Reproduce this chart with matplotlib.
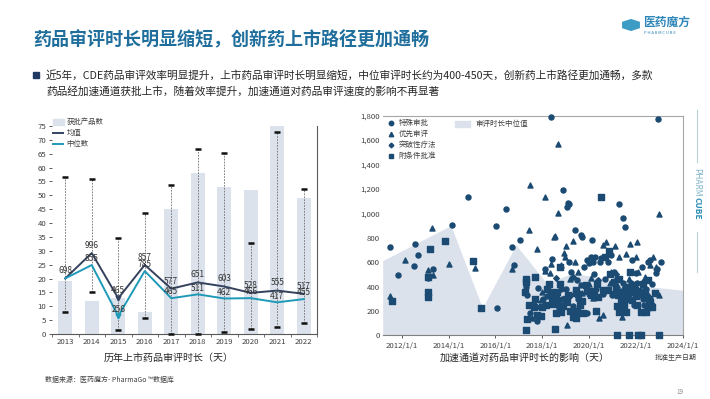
import datetime as dt
import matplotlib
matplotlib.use("Agg")
import matplotlib.pyplot as plt
import matplotlib.dates as mdates
import numpy as np
from matplotlib.patches import Rectangle, RegularPolygon
from matplotlib.lines import Line2D

plt.rcParams['font.family'] = ['Noto Sans CJK SC', 'DejaVu Sans']

# ---- 左图数据：历年上市药品审评时长 ----
years = ['2013', '2014', '2015', '2016', '2017', '2018', '2019', '2020', '2021', '2022']
approved = [19, 12, 13, 8, 45, 58, 53, 52, 75, 49]          # 获批产品数 (右轴)
mean_days = [698, 996, 465, 857, 577, 651, 603, 528, 555, 517]
median_days = [698, 855, 256, 785, 465, 511, 462, 466, 417, 455]
range_max = [1892, 1865, 1176, 1462, 1791, 2214, 2167, 1117, 2421, 1748]
range_min = [307, 541, 92, 229, 45, 45, 72, 103, 127, 177]

# ---- 右图数据：加速通道 (批准年份, 审评天数) ----
special_yr = [2011.5, 2011.86, 2012.57, 2012.54, 2012.69, 2013.33, 2013.14, 2014.16, 2014.83,
              2016.01, 2016.07, 2016.47, 2016.69, 2016.81, 2017.04, 2017.36, 2017.64, 2017.76,
              2017.81, 2018.1, 2018.39, 2018.41, 2018.9, 2019.04, 2019.1, 2019.14, 2019.14,
              2019.39, 2019.64, 2019.71, 2020.11, 2020.07, 2020.0, 2019.93, 2020.5, 2020.8,
              2021.26, 2021.44, 2021.54, 2022.93, 2021.05, 2021.2, 2021.45, 2021.7, 2021.85,
              2022.0, 2022.25, 2022.45, 2022.6, 2022.85, 2023.07, 2019.5, 2019.65, 2018.8,
              2018.2, 2020.3, 2020.6, 2019.25, 2019.8, 2020.2, 2021.9, 2022.7,
              2017.3, 2017.5, 2017.9, 2018.05, 2018.5, 2018.7, 2018.85, 2019.0, 2019.2,
              2019.3, 2019.55, 2019.9, 2020.0, 2020.15, 2020.25, 2020.45, 2020.7, 2020.95,
              2021.0, 2021.3, 2021.5, 2021.65, 2021.8, 2022.05, 2022.15, 2022.3, 2022.5,
              2022.62, 2022.9, 2022.35]
special_days = [724, 498, 750, 566, 661, 547, 471, 901, 1136,
                893, 226, 1032, 724, 574, 784, 327, 248, 120,
                384, 547, 1792, 629, 1191, 1054, 1087, 1073, 601,
                860, 822, 808, 778, 642, 590, 180, 630, 600,
                1079, 958, 890, 1770, 520, 470, 430, 400, 620,
                510, 560, 380, 300, 510, 601, 450, 410, 380,
                320, 380, 340, 520, 560, 500, 250, 420,
                400, 180, 230, 300, 330, 220, 300, 380, 330,
                240, 300, 620, 350, 600, 640, 600, 460, 660,
                330, 360, 380, 330, 430, 430, 330, 300, 600,
                620, 540, 250]

priority_yr = [2011.5, 2012.14, 2013.14, 2013.33, 2013.29, 2014.0, 2015.14, 2016.73, 2017.44,
               2017.5, 2017.57, 2017.79, 2017.93, 2018.0, 2018.1, 2018.1, 2018.33, 2018.5,
               2018.56, 2018.39, 2018.66, 2018.69, 2018.94, 2018.96, 2019.03, 2019.07, 2019.31,
               2019.4, 2019.2, 2020.19, 2020.44, 2020.6, 2020.61, 2020.74, 2021.1, 2021.3,
               2021.4, 2021.55, 2021.6, 2021.76, 2021.7, 2022.06, 2022.1, 2022.35, 2022.55,
               2022.75, 2022.85, 2023.0, 2023.0, 2020.9, 2020.0, 2019.7,
               2018.25, 2018.8, 2019.55, 2020.1, 2020.95, 2021.2, 2022.0, 2022.4, 2022.6]
priority_days = [321, 620, 533, 498, 882, 588, 555, 541, 863,
                 1232, 139, 710, 288, 356, 1136, 528, 512, 803,
                 816, 588, 1565, 1000, 675, 642, 729, 84, 773,
                 600, 460, 302, 139, 166, 737, 762, 730, 640,
                 150, 200, 669, 751, 460, 767, 520, 390, 320,
                 640, 560, 994, 330, 430, 420, 350,
                 420, 580, 520, 470, 520, 410, 640, 480, 580]

breakthrough_yr = [2018.6, 2019.3, 2020.4, 2021.15, 2021.8, 2022.3]
breakthrough_days = [470, 480, 450, 500, 350, 440]

conditional_yr = [2011.59, 2013.21, 2013.14, 2013.14, 2013.14, 2013.83, 2015.04, 2015.39, 2017.31,
                  2017.31, 2017.27, 2017.36, 2017.31, 2017.69, 2017.64, 2017.79, 2017.93, 2018.16,
                  2018.29, 2018.36, 2018.43, 2018.54, 2018.57, 2018.64, 2018.67, 2018.74, 2018.76,
                  2018.9, 2019.1, 2019.2, 2019.43, 2019.43, 2019.46, 2019.5, 2019.6, 2019.75,
                  2019.9, 2020.05, 2020.2, 2020.4, 2020.53, 2020.6, 2020.85, 2020.9, 2021.05,
                  2021.15, 2021.21, 2021.25, 2021.29, 2021.4, 2021.5, 2021.55, 2021.6, 2021.75,
                  2021.7, 2021.95, 2022.0, 2022.05, 2022.21, 2022.25, 2022.1, 2022.2, 2022.4,
                  2022.5, 2022.6, 2022.65, 2022.5, 2022.98, 2021.35, 2020.3, 2019.0,
                  2017.45, 2017.7, 2018.0, 2018.2, 2018.45, 2018.6, 2018.8, 2019.05, 2019.3,
                  2019.55, 2019.7, 2019.85, 2020.1, 2020.35, 2020.7, 2020.8, 2021.1, 2021.3,
                  2021.45, 2021.6, 2021.65, 2021.85, 2022.1, 2022.3, 2022.45, 2022.55, 2022.7,
                  2022.8, 2021.9, 2021.2]
conditional_days = [280, 705, 356, 316, 480, 773, 609, 226, 438,
                    465, 356, 131, 44, 479, 229, 166, 158, 248,
                    424, 356, 302, 49, 185, 356, 275, 424, 560,
                    240, 330, 200, 370, 345, 139, 200, 245, 180,
                    360, 350, 360, 310, 1136, 370, 690, 500, 440,
                    380, 0, 330, 193, 290, 250, 300, 400, 520,
                    0, 370, 320, 250, 193, 340, 0, 0, 340,
                    230, 270, 240, 450, 0, 280, 200, 300,
                    245, 300, 230, 380, 260, 300, 190, 270, 150,
                    340, 280, 410, 330, 420, 640, 370, 340, 460,
                    330, 190, 350, 290, 360, 420, 190, 300, 230,
                    350, 410, 240]

# 审评时长中位值 (阴影)
median_area_yr = [2011.19, 2014.1, 2015.45, 2016.88, 2018.2, 2019.3, 2020.5, 2021.5, 2022.5, 2024.0]
median_area_days = [612, 900, 225, 741, 425, 510, 470, 430, 400, 370]

W, H = 710, 399
fig = plt.figure(figsize=(7.1, 3.99), dpi=100)


def fx(px):
    return px / W


def fy(py):
    return 1 - py / H


def yr(v):
    return mdates.date2num(dt.datetime(2000, 1, 1)) + (np.asarray(v) - 2000) * 365.25


title_c = '#1f6e9c'
bar_c = '#dbe2ec'
mean_c = '#34425e'
med_c = '#1e9ab8'
dot_c = '#1b4a72'
txt_c = '#404040'

# ---- 标题 / 说明 ----
fig.text(fx(33), fy(40), '药品审评时长明显缩短，创新药上市路径更加通畅', fontsize=13,
         fontweight='bold', color=title_c, va='center')
fig.add_artist(Rectangle((fx(33), fy(78)), 6 / W, 6 / H, transform=fig.transFigure,
                         color='#1f3864'))
fig.text(fx(46), fy(75), '近5年，CDE药品审评效率明显提升，上市药品审评时长明显缩短，中位审评时长约为400-450天，'
         '创新药上市路径更加通畅，多款', fontsize=7.7, color='#262626', va='center')
fig.text(fx(46), fy(91), '药品经加速通道获批上市，随着效率提升，加速通道对药品审评速度的影响不再显著',
         fontsize=7.7, color='#262626', va='center')

# logo
fig.add_artist(RegularPolygon((fx(631), fy(25)), 6, radius=9.5 / W, orientation=0,
                              transform=fig.transFigure, color='#3d9cc4'))
fig.text(fx(643), fy(22), '医药魔方', fontsize=8.5, fontweight='bold', color='#2f86b8', va='center')
fig.text(fx(644), fy(33), 'P H A R M C U B E', fontsize=3, color='#2f86b8', va='center')

# 右侧竖排标识
fig.add_artist(Line2D([fx(697), fx(697)], [fy(110), fy(162)], transform=fig.transFigure,
                      color='#b9cfd9', lw=0.8))
fig.add_artist(Line2D([fx(697), fx(697)], [fy(232), fy(272)], transform=fig.transFigure,
                      color='#b9cfd9', lw=0.8))
fig.text(fx(697), fy(168), 'PHARM', fontsize=6, color='#7fb3c8', rotation=-90, ha='center', va='top')
fig.text(fx(697), fy(197), 'CUBE', fontsize=6, fontweight='bold', color='#2a8fb5', rotation=-90,
         ha='center', va='top')

# ---- 左图 ----
x = np.arange(len(years))
axb = fig.add_axes([fx(52), fy(334), (317 - 52) / W, (334 - 126) / H])
axb.bar(x, approved, width=0.52, color=bar_c, zorder=1)
axb.set_xlim(-0.406, 9.37)
axb.set_ylim(0, 75)
axb.yaxis.tick_right()
axb.set_yticks(range(0, 76, 5))
axb.tick_params(axis='y', labelsize=5.6, length=2.5, width=0.6, colors=txt_c, pad=1.5)
axb.set_xticks(x)
axb.set_xticklabels(years)
axb.tick_params(axis='x', which='major', length=0, labelsize=5.6, colors=txt_c, pad=3)
axb.set_xticks(np.arange(-0.5, 10, 1), minor=True)
axb.tick_params(axis='x', which='minor', length=2.5, width=0.6, color='#595959')
for s in ['top', 'left']:
    axb.spines[s].set_visible(False)
for s in ['right', 'bottom']:
    axb.spines[s].set_color('#595959')
    axb.spines[s].set_linewidth(0.8)

axl = axb.twinx()
axl.set_ylim(45, 2488)
axl.axis('off')
axl.vlines(x, range_min, range_max, colors='#6b6b6b', linestyles=(0, (2, 1.5)), lw=0.6)
axl.plot(x, range_max, ls='none', marker='_', ms=5, mew=1.8, color='#111111')
axl.plot(x, range_min, ls='none', marker='_', ms=5, mew=1.8, color='#111111', clip_on=False)
axl.plot(x, mean_days, color=mean_c, lw=1.4, marker='v', ms=3.5, markevery=[2])
axl.plot(x, median_days, color=med_c, lw=1.4, marker='v', ms=3.5, markevery=[2])
for i in x:
    axl.annotate(str(mean_days[i]), (i, mean_days[i]), xytext=(0, 5.5), textcoords='offset points',
                 ha='center', va='center', fontsize=6, color='#333333')
    if median_days[i] != mean_days[i]:
        axl.annotate(str(median_days[i]), (i, median_days[i]), xytext=(0, 4.5),
                     textcoords='offset points', ha='center', va='center', fontsize=6,
                     color='#333333')

fig.text(fx(169), fy(358), '历年上市药品审评时长（天）', fontsize=7.2, ha='center', va='center',
         color='#262626')

# 左图图例
fig.add_artist(Rectangle((fx(53), fy(125)), 11 / W, 6 / H, transform=fig.transFigure, color=bar_c))
fig.add_artist(Line2D([fx(53), fx(63)], [fy(133.3)] * 2, transform=fig.transFigure, color=mean_c, lw=1.4))
fig.add_artist(Line2D([fx(53), fx(63)], [fy(144.3)] * 2, transform=fig.transFigure, color=med_c, lw=1.4))
for yy, lab in zip([122, 133.3, 144.3], ['获批产品数', '均值', '中位数']):
    fig.text(fx(66.5), fy(yy), lab, fontsize=5.3, va='center', color=txt_c)

# ---- 右图 ----
axs = fig.add_axes([fx(382.7), fy(335.3), 300 / W, 219.6 / H])
axs.fill_between(yr(median_area_yr), 0, median_area_days, color=bar_c, lw=0, zorder=0)
axs.scatter(yr(special_yr), special_days, s=13, marker='o', color=dot_c, zorder=3, clip_on=False)
axs.scatter(yr(priority_yr), priority_days, s=13, marker='^', color=dot_c, zorder=3, clip_on=False)
axs.scatter(yr(breakthrough_yr), breakthrough_days, s=8, marker='D', color=dot_c, zorder=3)
axs.scatter(yr(conditional_yr), conditional_days, s=13, marker='s', color=dot_c, zorder=3,
            clip_on=False)
axs.set_xlim(yr(2011.19), yr(2024.0))
axs.set_ylim(0, 1800)
tick_years = [2012, 2014, 2016, 2018, 2020, 2022, 2024]
axs.set_xticks([mdates.date2num(dt.datetime(y, 1, 1)) for y in tick_years])
axs.set_xticklabels([f'{y}/1/1' for y in tick_years])
axs.set_yticks(range(0, 1801, 200))
axs.set_yticklabels([f'{v:,}' for v in range(0, 1801, 200)])
axs.tick_params(axis='x', labelsize=5.6, length=2, width=0.6, colors=txt_c, pad=3)
axs.tick_params(axis='y', labelsize=5.6, length=0, colors=txt_c, pad=2)
axs.spines['left'].set_visible(False)
for s in ['top', 'right']:
    axs.spines[s].set_color('#a6a6a6')
    axs.spines[s].set_linewidth(0.8)
axs.spines['bottom'].set_color('#808080')
axs.spines['bottom'].set_linewidth(0.8)

fig.text(fx(525), fy(358), '加速通道对药品审评时长的影响（天）', fontsize=7.2, ha='center',
         va='center', color='#262626')
fig.text(fx(676), fy(358), '批准生产日期', fontsize=5, ha='center', va='center', color=txt_c)

# 右图图例
for yy, mk, lab in zip([122.7, 134.3, 145, 156], ['o', '^', 'D', 's'],
                       ['特殊审批', '优先审评', '突破性疗法', '附条件批准']):
    fig.add_artist(Line2D([fx(390.7)], [fy(yy)], transform=fig.transFigure, marker=mk,
                          ms=3.2 if mk != 'D' else 2.4, color=dot_c, ls='none'))
    fig.text(fx(398.5), fy(yy), lab, fontsize=5.4, va='center', color=txt_c)
fig.add_artist(Rectangle((fx(455), fy(126.5)), 15 / W, 5.5 / H, transform=fig.transFigure, color=bar_c))
fig.text(fx(475), fy(124), '审评时长中位值', fontsize=5.4, va='center', color=txt_c)

# 页脚
fig.text(fx(45), fy(380), '数据来源：医药魔方- PharmaGo ™数据库', fontsize=5, va='center', color=txt_c)
fig.text(fx(680), fy(392), '19', fontsize=4.5, va='center', ha='center', color='#8c8c8c')

fig.savefig('out.png', dpi=100)
